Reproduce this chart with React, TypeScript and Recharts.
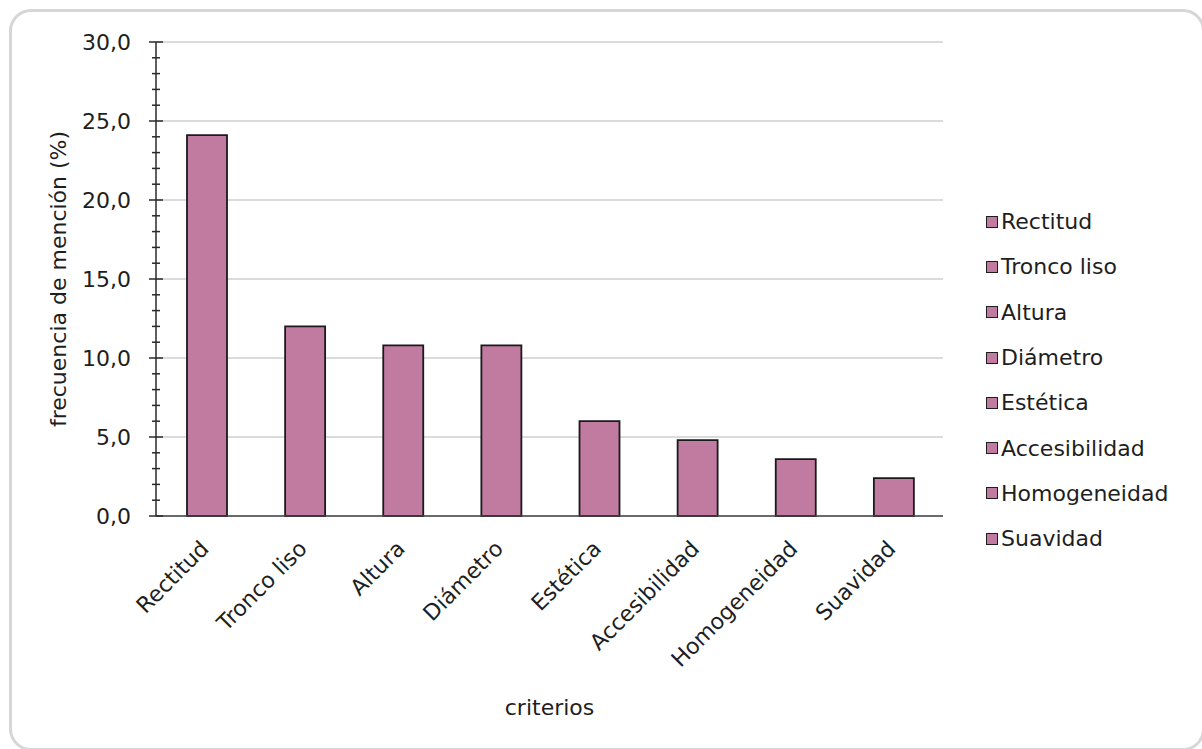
import React from 'react'
import { BarChart, Bar, XAxis, YAxis, CartesianGrid, Legend } from 'recharts'

// frecuencia de mención por criterio (%)
const criterios = ['Rectitud', 'Tronco liso', 'Altura', 'Diámetro', 'Estética', 'Accesibilidad', 'Homogeneidad', 'Suavidad']
const frecuencias = [24.1, 12.0, 10.8, 10.8, 6.0, 4.8, 3.6, 2.4]

const majorTicks = [0, 5, 10, 15, 20, 25, 30]
const allTicks = [0, 1, 2, 3, 4, 5, 6, 7, 8, 9, 10, 11, 12, 13, 14, 15, 16, 17, 18, 19, 20, 21, 22, 23, 24, 25, 26, 27, 28, 29, 30]

const data = criterios.map((name, i) => ({ name, value: frecuencias[i] }))

const FONT = '"DejaVu Sans", Verdana, sans-serif'
const TEXT = '#1e1e1e'
const BAR = '#c27ba0'

const fmt = (v: number) => v.toFixed(1).replace('.', ',')

// cross ticks on the value axis, labels only on the major ones
const YTick = (props: any) => {
    const { x, y, payload } = props
    const major = majorTicks.includes(payload.value)
    const half = major ? 7 : 4
    return (
        <g>
            <line x1={x - half} x2={x + half} y1={y} y2={y} stroke="#2a2a2a" strokeWidth={1.5} />
            {major && (
                <text x={x - 25} y={y} dy="0.36em" textAnchor="end" fontFamily={FONT} fontSize={22} fill={TEXT}>
                    {fmt(payload.value)}
                </text>
            )}
        </g>
    )
}

const XTick = (props: any) => {
    const { x, y, payload } = props
    const ax = x + 3
    const ay = y + 34
    return (
        <text x={ax} y={ay} transform={`rotate(-45, ${ax}, ${ay})`} textAnchor="end" fontFamily={FONT} fontSize={22} fill={TEXT}>
            {payload.value}
        </text>
    )
}

const LegendBox = () => (
    <div style={{ fontFamily: FONT, fontSize: 22, color: TEXT }}>
        {criterios.map((c) => (
            <div key={c} style={{ height: 45.3, display: 'flex', alignItems: 'center', whiteSpace: 'nowrap' }}>
                <span style={{ width: 12, height: 12, background: BAR, border: '1.5px solid #1e1e1e', marginRight: 3, boxSizing: 'border-box' }} />
                <span>{c}</span>
            </div>
        ))}
    </div>
)

export default function App() {
    return (
        <div style={{ position: 'fixed', left: 0, top: 0, width: 1202, height: 749, overflow: 'hidden', background: '#fff' }}>
            <div style={{
                position: 'absolute', left: 9, top: 9, width: 1196, height: 742,
                border: '3px solid #d6d6d6', borderRadius: 22, boxSizing: 'border-box'
            }} />
            <div style={{ position: 'absolute', left: 0, top: 0 }}>
                <BarChart width={1202} height={749} data={data}
                    margin={{ top: 42, right: 259, left: 0, bottom: 0 }}>
                    <CartesianGrid vertical={false} horizontalValues={majorTicks} stroke="#cfcfcf" strokeWidth={1.5} />
                    <XAxis
                        dataKey="name"
                        height={233}
                        interval={0}
                        tickSize={0}
                        tickMargin={0}
                        tickLine={false}
                        tick={<XTick />}
                        padding={{ left: 2, right: 0 }}
                        axisLine={{ stroke: '#444', strokeWidth: 1.5 }}
                        label={{ value: 'criterios', position: 'insideBottom', offset: 34, fill: TEXT, fontFamily: FONT, fontSize: 22 }}
                    />
                    <YAxis
                        width={156}
                        domain={[0, 30]}
                        ticks={allTicks}
                        interval={0}
                        tickSize={0}
                        tickMargin={0}
                        tickLine={false}
                        tick={<YTick />}
                        axisLine={{ stroke: '#2a2a2a', strokeWidth: 1.5 }}
                        label={{ value: 'frecuencia de mención (%)', angle: -90, position: 'insideLeft', offset: 58, fill: TEXT, fontFamily: FONT, fontSize: 22, style: { textAnchor: 'middle' } }}
                    />
                    {/* centred/middle so the legend doesn't eat into the plot width; placed by wrapperStyle */}
                    <Legend
                        layout="vertical"
                        verticalAlign="middle"
                        align="center"
                        wrapperStyle={{ top: 199, left: 986, width: 210 }}
                        content={() => <LegendBox />}
                    />
                    <Bar dataKey="value" fill={BAR} stroke="#1a1a1a" strokeWidth={1.8} barSize={40} isAnimationActive={false} />
                </BarChart>
            </div>
        </div>
    )
}
